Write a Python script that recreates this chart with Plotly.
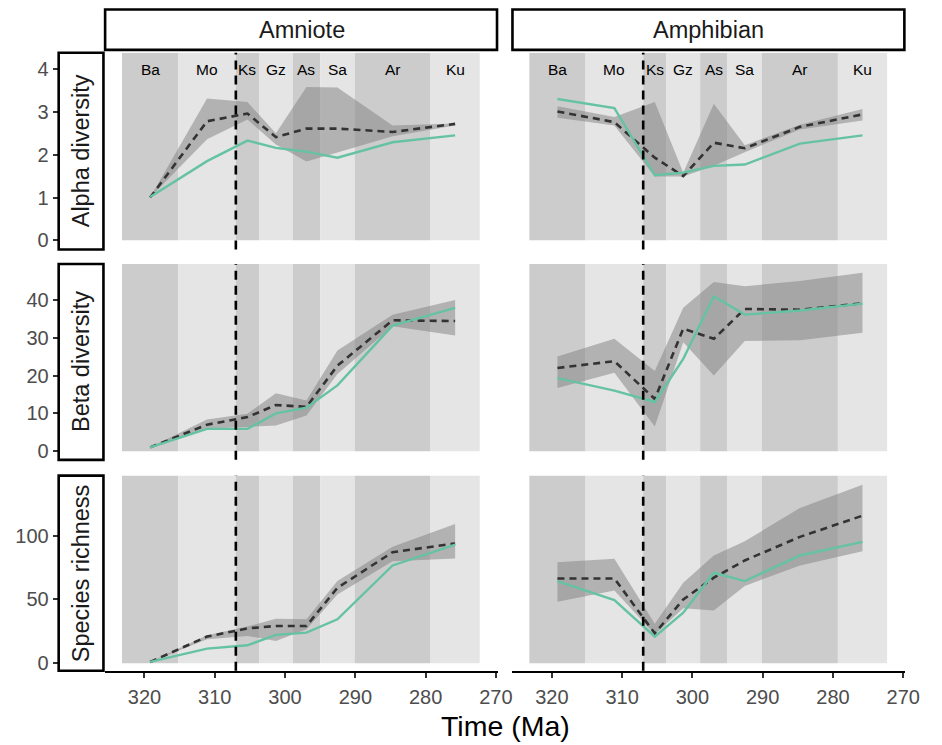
import plotly.graph_objects as go

# ---------------- data ----------------
stage_names = ["Ba", "Mo", "Ks", "Gz", "As", "Sa", "Ar", "Ku"]
stage_start = [323.2, 315.2, 307.0, 303.7, 298.9, 295.0, 290.1, 279.3]
stage_end = [315.2, 307.0, 303.7, 298.9, 295.0, 290.1, 279.3, 272.3]
stage_mid = [(a + b) / 2 for a, b in zip(stage_start, stage_end)]
boundary_line = 307.0

clades = ["Amniote", "Amphibian"]
metrics = ["Alpha diversity", "Beta diversity", "Species richness"]
x_ticks = [320, 310, 300, 290, 280, 270]
y_ticks = [[0, 1, 2, 3, 4], [0, 10, 20, 30, 40], [0, 50, 100]]

# Amniote - alpha
amn_alpha_obs = [1.01, 1.85, 2.33, 2.16, 2.07, 1.93, 2.29, 2.45]
amn_alpha_mean = [1.0, 2.78, 2.96, 2.41, 2.61, 2.61, 2.53, 2.72]
amn_alpha_lo = [1.0, 2.36, 2.82, 2.24, 1.84, 2.05, 2.43, 2.68]
amn_alpha_hi = [1.0, 3.31, 3.23, 2.50, 3.58, 3.57, 2.68, 2.73]
# Amphibian - alpha
amp_alpha_obs = [3.30, 3.09, 1.52, 1.58, 1.74, 1.77, 2.26, 2.45]
amp_alpha_mean = [3.01, 2.76, 1.93, 1.50, 2.28, 2.15, 2.65, 2.94]
amp_alpha_lo = [2.86, 2.68, 1.49, 1.49, 1.74, 2.06, 2.59, 2.80]
amp_alpha_hi = [3.13, 2.88, 3.23, 1.58, 3.19, 2.22, 2.70, 3.07]
# Amniote - beta
amn_beta_obs = [1.0, 5.9, 5.9, 10.0, 11.5, 17.4, 33.2, 37.9]
amn_beta_mean = [1.0, 7.0, 9.0, 12.2, 11.7, 22.6, 34.6, 34.4]
amn_beta_lo = [1.0, 5.9, 6.5, 6.8, 9.4, 20.4, 33.0, 30.6]
amn_beta_hi = [1.0, 8.4, 9.9, 15.3, 13.4, 26.6, 36.1, 40.0]
# Amphibian - beta
amp_beta_obs = [19.3, 16.0, 13.0, 24.4, 40.9, 36.1, 37.2, 39.0]
amp_beta_mean = [22.0, 23.8, 13.8, 32.4, 29.7, 37.6, 37.4, 39.1]
amp_beta_lo = [16.7, 20.7, 6.5, 28.8, 20.0, 29.1, 29.3, 31.3]
amp_beta_hi = [25.0, 29.7, 21.2, 37.9, 44.7, 43.6, 45.0, 47.2]
# Amniote - richness
amn_rich_obs = [1.1, 11.5, 14.1, 22.2, 24.0, 34.4, 76.6, 93.0]
amn_rich_mean = [1.0, 20.9, 27.3, 29.2, 29.2, 59.1, 87.0, 93.8]
amn_rich_lo = [1.0, 18.8, 21.4, 17.5, 26.6, 53.9, 80.0, 82.0]
amn_rich_hi = [1.0, 21.9, 28.7, 34.9, 34.4, 64.4, 91.2, 109.1]
# Amphibian - richness
amp_rich_obs = [64.4, 49.5, 20.9, 39.6, 70.9, 64.4, 84.4, 95.1]
amp_rich_mean = [66.4, 66.4, 23.4, 50.0, 67.0, 80.5, 99.0, 115.6]
amp_rich_lo = [48.2, 57.0, 22.7, 43.0, 41.4, 60.5, 76.6, 87.8]
amp_rich_hi = [79.2, 81.8, 31.0, 63.0, 84.4, 95.6, 121.6, 139.8]

panels = [
    [(amn_alpha_obs, amn_alpha_mean, amn_alpha_lo, amn_alpha_hi),
     (amp_alpha_obs, amp_alpha_mean, amp_alpha_lo, amp_alpha_hi)],
    [(amn_beta_obs, amn_beta_mean, amn_beta_lo, amn_beta_hi),
     (amp_beta_obs, amp_beta_mean, amp_beta_lo, amp_beta_hi)],
    [(amn_rich_obs, amn_rich_mean, amn_rich_lo, amn_rich_hi),
     (amp_rich_obs, amp_rich_mean, amp_rich_lo, amp_rich_hi)],
]

# ---------------- layout geometry ----------------
# page body has an 8px margin, so the figure is 8px smaller on each axis
OFF = 8
W, H = 942 - OFF, 745 - OFF
FONT = "Liberation Sans, Arial, sans-serif"


def fx(px):
    return (px - OFF) / W


def fy(py):
    return 1 - (py - OFF) / H


col_px = [(106.7, 506.0), (520.7, 920.0)]
row_px = [(53.0, 250.5), (265.0, 461.7), (477.5, 673.5)]
x_range = [325.6, 269.7]
y_ranges = [[-0.214, 4.379], [-2.3, 49.5], [-5.9, 147.0]]

DARK = "#CCCCCC"
LIGHT = "#E5E5E5"
GREEN = "#66C2A5"

fig = go.Figure()
shapes = []
annotations = []
layout = {}

for r in range(3):
    for c in range(2):
        k = r * 2 + c + 1
        xa = "x" if k == 1 else f"x{k}"
        ya = "y" if k == 1 else f"y{k}"
        obs, mean, lo, hi = panels[r][c]

        # ribbon
        fig.add_trace(go.Scatter(
            x=stage_mid + stage_mid[::-1], y=hi + lo[::-1],
            fill="toself", fillcolor="rgba(127,127,127,0.5)",
            line=dict(width=0), mode="lines", hoverinfo="skip",
            showlegend=False, xaxis=xa, yaxis=ya))
        # null mean (dashed)
        fig.add_trace(go.Scatter(
            x=stage_mid, y=mean, mode="lines",
            line=dict(color="#333333", width=2.6, dash="7px,5px"),
            showlegend=False, xaxis=xa, yaxis=ya))
        # observed
        fig.add_trace(go.Scatter(
            x=stage_mid, y=obs, mode="lines",
            line=dict(color=GREEN, width=2.4),
            showlegend=False, xaxis=xa, yaxis=ya))

        # stage background rectangles
        for i in range(len(stage_names)):
            shapes.append(dict(
                type="rect", xref=xa, yref=ya,
                x0=stage_start[i], x1=stage_end[i],
                y0=0, y1=y_ranges[r][1],
                fillcolor=DARK if i % 2 == 0 else LIGHT,
                line=dict(width=0), layer="below"))
        # vertical dashed line
        shapes.append(dict(
            type="line", xref=xa, yref=f"{ya} domain",
            x0=boundary_line, x1=boundary_line, y0=0, y1=1,
            line=dict(color="black", width=2.6, dash="9px,6px"),
            layer="above"))

        # stage labels, top row
        if r == 0:
            for i, nm in enumerate(stage_names):
                annotations.append(dict(
                    x=stage_mid[i], y=4.0, xref=xa, yref=ya, text=nm,
                    showarrow=False, font=dict(size=15.5, color="black", family=FONT),
                    xanchor="center", yanchor="middle"))

        xd = [fx(col_px[c][0]), fx(col_px[c][1])]
        yd = [fy(row_px[r][1]), fy(row_px[r][0])]
        xkey = "xaxis" if k == 1 else f"xaxis{k}"
        ykey = "yaxis" if k == 1 else f"yaxis{k}"
        if r == 2:
            layout[xkey] = dict(
                domain=xd, anchor=ya, range=x_range,
                tickvals=x_ticks, ticktext=[str(v) for v in x_ticks],
                showline=True, linecolor="black", linewidth=1.6,
                ticks="outside", ticklen=5, tickwidth=1.6, tickcolor="#333333",
                tickfont=dict(size=20, color="#4D4D4D", family=FONT),
                ticklabelstandoff=2,
                showgrid=False, zeroline=False)
        else:
            layout[xkey] = dict(domain=xd, anchor=ya, range=x_range,
                                visible=False, showgrid=False, zeroline=False)
        if c == 0:
            layout[ykey] = dict(
                domain=yd, anchor="free", position=fx(59.5), range=y_ranges[r],
                tickvals=y_ticks[r], ticktext=[str(v) for v in y_ticks[r]],
                showline=False, ticks="outside", ticklen=6, tickwidth=1.6,
                tickcolor="#333333",
                tickfont=dict(size=20, color="#4D4D4D", family=FONT),
                showgrid=False, zeroline=False)
        else:
            layout[ykey] = dict(domain=yd, anchor=xa, range=y_ranges[r],
                                visible=False, showgrid=False, zeroline=False)

# top strips
for c in range(2):
    shapes.append(dict(type="rect", xref="paper", yref="paper",
                       x0=fx(col_px[c][0]), x1=fx(col_px[c][1] - 1),
                       y0=fy(50), y1=fy(9.5),
                       line=dict(color="black", width=2.6), fillcolor="white"))
    annotations.append(dict(x=fx((col_px[c][0] + col_px[c][1]) / 2), y=fy(30.5),
                            xref="paper", yref="paper", text=clades[c],
                            showarrow=False, xanchor="center", yanchor="middle",
                            font=dict(size=23.5, color="#1A1A1A", family=FONT)))
# left strips
for r in range(3):
    shapes.append(dict(type="rect", xref="paper", yref="paper",
                       x0=fx(59.5), x1=fx(105), y0=fy(row_px[r][1]), y1=fy(row_px[r][0]),
                       line=dict(color="black", width=2.6), fillcolor="white"))
    annotations.append(dict(x=fx(82.3), y=fy((row_px[r][0] + row_px[r][1]) / 2),
                            xref="paper", yref="paper", text=metrics[r],
                            showarrow=False, textangle=-90,
                            xanchor="center", yanchor="middle",
                            font=dict(size=23.5, color="#1A1A1A", family=FONT)))
# axis title
annotations.append(dict(x=fx(513.4), y=fy(729), xref="paper", yref="paper",
                        text="Time (Ma)", showarrow=False,
                        xanchor="center", yanchor="middle",
                        font=dict(size=28.5, color="black", family=FONT)))

fig.update_layout(
    width=W, height=H,
    margin=dict(l=0, r=0, t=0, b=0),
    paper_bgcolor="white", plot_bgcolor="white",
    showlegend=False,
    shapes=shapes, annotations=annotations,
    font=dict(family=FONT),
    **layout)

fig.write_html("out.html")
